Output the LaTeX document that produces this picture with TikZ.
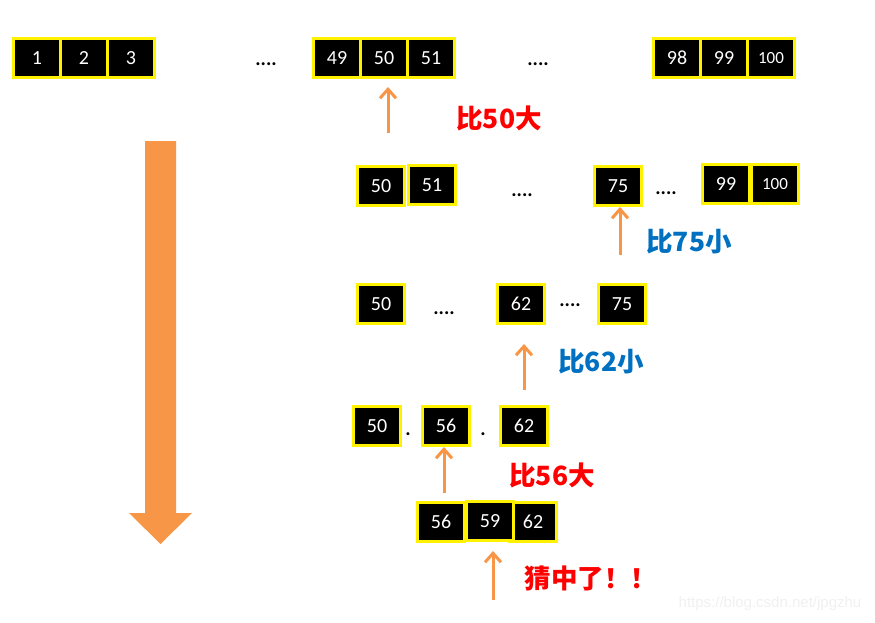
\documentclass[tikz,border=0pt]{standalone}
\usepackage{fontspec}
\setmainfont{Carlito}
\newfontfamily\cjk{Noto Sans CJK SC}
\newfontfamily\wmfont{Liberation Sans}
\usetikzlibrary{arrows.meta}
\definecolor{orng}{HTML}{F79646}
\definecolor{lblblue}{HTML}{0070C0}

\tikzset{
  numbox/.style={draw=yellow, fill=black, text=white, line width=3pt, minimum width=47pt, minimum height=39pt, inner sep=0pt, font=\fontsize{20}{20}\selectfont},
  bigbox/.style={numbox, font=\fontsize{17}{17}\selectfont},
  dotstxt/.style={anchor=base, inner sep=0pt, font=\bfseries\fontsize{20}{20}\selectfont},
  guess/.style={draw=orng, line width=3pt, -{Straight Barb[length=9pt,width=16pt]}},
  lbl/.style={font=\cjk\bfseries\fontsize{26.5}{26.5}\selectfont}
}

\begin{document}
\begin{tikzpicture}[x=1pt, y=-1pt]
          \useasboundingbox (0,0) rectangle (875,622);

          % first row: 1 .. 100
          \node[numbox] (t1) at (37,58) {1};
          \node[numbox] (t2) at (84,58) {2};
          \node[numbox] (t3) at (131,58) {3};
          \node[dotstxt] (d1) at (266,65) {....};
          \node[numbox] (t49) at (337,58) {49};
          \node[numbox] (t50) at (384,58) {50};
          \node[numbox] (t51) at (431,58) {51};
          \node[dotstxt] (d2) at (538,65) {....};
          \node[numbox] (t98) at (677,58) {98};
          \node[numbox] (t99) at (724,58) {99};
          \node[bigbox] (t100) at (771,58) {100};

          \coordinate (g1) at (388,133);
          \draw[guess, shorten >=8pt] (g1) -- (g1 |- t50.south);
          \node[lbl, text=red] (l1) at (499,118) {比50大};

          % second row: 50 .. 100
          \node[numbox] (s50) at (381,186) {50};
          \node[numbox] (s51) at (432,185) {51};
          \node[dotstxt] (d3) at (522,196) {....};
          \node[numbox] (s75) at (618,186) {75};
          \node[dotstxt] (d4) at (666,194) {....};
          \node[numbox] (s99) at (726,184) {99};
          \node[bigbox] (s100) at (775,184) {100};

          \coordinate (g2) at (620,255);
          \draw[guess] (g2) -- (g2 |- s75.south);
          \node[lbl, text=lblblue] (l2) at (689,242) {比75小};

          % third row: 50 .. 75
          \node[numbox] (m50) at (381,304) {50};
          \node[dotstxt] (d5) at (444,314) {....};
          \node[numbox] (m62) at (521,304) {62};
          \node[dotstxt] (d6) at (570,306) {....};
          \node[numbox] (m75) at (622,304) {75};

          \coordinate (g3) at (524,390);
          \draw[guess, shorten >=19pt] (g3) -- (g3 |- m62.south);
          \node[lbl, text=lblblue] (l3) at (601,362) {比62小};

          % fourth row: 50 .. 62
          \node[numbox] (f50) at (377,426) {50};
          \node[dotstxt] (d7) at (408,435) {.};
          \node[numbox] (f56) at (446,426) {56};
          \node[dotstxt] (d8) at (483,435) {.};
          \node[numbox] (f62) at (524,426) {62};

          \coordinate (g4) at (444,493);
          \draw[guess] (g4) -- (g4 |- f56.south);
          \node[lbl, text=red] (l4) at (552,475) {比56大};

          % last row
          \node[numbox] (e56) at (441,522) {56};
          \node[numbox] (e62) at (533,522) {62};
          \node[numbox] (e59) at (490,521) {59};

          \coordinate (g5) at (493,600);
          \draw[guess, shorten >=9pt] (g5) -- (g5 |- e59.south);
          \node[lbl, text=red] (l5) at (591,578) {猜中了！！};

          % big arrow on the left
          \fill[orng] (145,141) -- (176,141) -- (176,513) -- (192,513) -- (160.5,544) -- (129,513) -- (145,513) -- cycle;

          \node[font=\wmfont\fontsize{15}{15}\selectfont, text=gray!12] (wm) at (770,604) {https://blog.csdn.net/jpgzhu};
        \end{tikzpicture}
\end{document}
